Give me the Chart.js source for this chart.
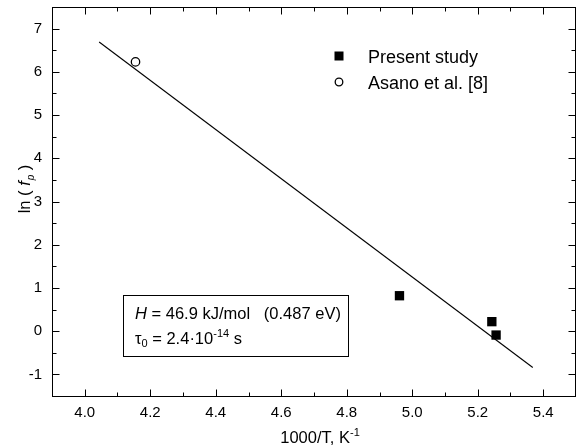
<!DOCTYPE html>
<html><head><meta charset="utf-8">
<script src="https://cdn.jsdelivr.net/npm/chart.js@4.4.1/dist/chart.umd.min.js"></script>
<style>html,body{margin:0;padding:0;background:#fff;}</style>
</head><body>
<canvas id="c" width="577" height="448"></canvas>
<script>
// ---- data ----
const presentX = [4.961, 5.243, 5.256];
const presentY = [0.82, 0.22, -0.09];
const asanoX = [4.155];
const asanoY = [6.23];
const fitX = [4.044, 5.368];
const fitY = [6.69, -0.84];
const xTickValues = [4.0, 4.2, 4.4, 4.6, 4.8, 5.0, 5.2, 5.4];
const xMinorValues = [4.1, 4.3, 4.5, 4.7, 4.9, 5.1, 5.3];
const yTickValues = [-1, 0, 1, 2, 3, 4, 5, 6, 7];
const yMinorValues = [-0.5, 0.5, 1.5, 2.5, 3.5, 4.5, 5.5, 6.5];
const legendLabels = ['Present study', 'Asano et al. [8]'];

const FONT = '"Liberation Sans", Arial, Helvetica, sans-serif';
const toPts = (xs, ys) => xs.map((x, i) => ({x: x, y: ys[i]}));

function richText(ctx, x, y, parts) {
  let cx = x;
  for (const p of parts) {
    ctx.font = (p.italic ? 'italic ' : '') + p.size + 'px ' + FONT;
    ctx.fillText(p.t, cx, y + (p.dy || 0));
    cx += ctx.measureText(p.t).width + (p.after || 0);
  }
  return cx - x;
}
function richWidth(ctx, parts) {
  let w = 0;
  for (const p of parts) {
    ctx.font = (p.italic ? 'italic ' : '') + p.size + 'px ' + FONT;
    w += ctx.measureText(p.t).width + (p.after || 0);
  }
  return w;
}

const decor = {
  id: 'decor',
  afterDraw(chart) {
    const ctx = chart.ctx;
    const a = chart.chartArea;
    const xs = chart.scales.x, ys = chart.scales.y;
    ctx.save();
    ctx.strokeStyle = '#000';
    ctx.fillStyle = '#000';
    ctx.lineWidth = 1;
    // frame
    const L = Math.round(a.left) + 0.5, R = Math.round(a.right) - 0.5;
    const T = Math.round(a.top) + 0.5, B = Math.round(a.bottom) + 0.5;
    ctx.strokeRect(L, T, R - L, B - T);
    // ticks (inward, mirrored)
    ctx.beginPath();
    const xt = (v, len) => {
      const px = Math.round(xs.getPixelForValue(v)) + 0.5;
      ctx.moveTo(px, B); ctx.lineTo(px, B - len);
      ctx.moveTo(px, T); ctx.lineTo(px, T + len);
    };
    const yt = (v, len) => {
      const py = Math.round(ys.getPixelForValue(v)) + 0.5;
      ctx.moveTo(L, py); ctx.lineTo(L + len, py);
      ctx.moveTo(R, py); ctx.lineTo(R - len, py);
    };
    xTickValues.forEach(v => xt(v, 7));
    xMinorValues.forEach(v => xt(v, 4));
    yTickValues.forEach(v => yt(v, 7));
    yMinorValues.forEach(v => yt(v, 4));
    ctx.stroke();

    // legend
    ctx.textBaseline = 'alphabetic';
    ctx.textAlign = 'left';
    ctx.fillRect(334.5, 51.5, 9, 9);
    ctx.beginPath();
    ctx.lineWidth = 1.3;
    ctx.arc(339, 82, 3.8, 0, Math.PI * 2);
    ctx.stroke();
    ctx.lineWidth = 1;
    ctx.font = '18px ' + FONT;
    ctx.fillText(legendLabels[0], 368, 62.5);
    ctx.fillText(legendLabels[1], 368, 88.5);

    // text box
    ctx.strokeRect(123.5, 295.5, 225, 61);
    richText(ctx, 135, 318.5, [
      {t: 'H', size: 16.5, italic: true},
      {t: ' = 46.9 kJ/mol   (0.487 eV)', size: 16.5}
    ]);
    richText(ctx, 135, 343.5, [
      {t: '\u03C4', size: 16.5},
      {t: '0', size: 11, dy: 3},
      {t: ' = 2.4\u00B710', size: 16.5},
      {t: '-14', size: 11, dy: -7},
      {t: ' s', size: 16.5}
    ]);

    // x title
    const xParts = [
      {t: '1000/T, K', size: 16.5},
      {t: '-1', size: 11, dy: -7}
    ];
    const xw = richWidth(ctx, xParts);
    richText(ctx, 318 - xw / 2 + 2, 443, xParts);

    // y title
    ctx.save();
    ctx.translate(30, 189);
    ctx.rotate(-Math.PI / 2);
    const yParts = [
      {t: 'ln ( ', size: 16.5},
      {t: 'f', size: 16.5, italic: true, after: 1},
      {t: 'p', size: 10, italic: true, dy: 4},
      {t: ' )', size: 16.5}
    ];
    const yw = richWidth(ctx, yParts);
    richText(ctx, -yw / 2, 0, yParts);
    ctx.restore();

    ctx.restore();
  }
};

const noPad = s => { s.paddingTop = 0; s.paddingBottom = 0; s.paddingLeft = 0; s.paddingRight = 0; };

new Chart(document.getElementById('c'), {
  type: 'scatter',
  data: {
    datasets: [
      {
        label: 'fit',
        data: toPts(fitX, fitY),
        showLine: true,
        borderColor: '#000',
        borderWidth: 1.1,
        pointRadius: 0,
        fill: false
      },
      {
        label: legendLabels[0],
        data: toPts(presentX, presentY),
        pointStyle: 'rect',
        pointRadius: 6.6,
        backgroundColor: '#000',
        borderColor: '#000',
        borderWidth: 0
      },
      {
        label: legendLabels[1],
        data: toPts(asanoX, asanoY),
        pointStyle: 'circle',
        pointRadius: 4.2,
        backgroundColor: 'rgba(255,255,255,0)',
        borderColor: '#000',
        borderWidth: 1.3
      }
    ]
  },
  options: {
    responsive: false,
    animation: false,
    devicePixelRatio: 1,
    layout: {autoPadding: false, padding: {top: 7, right: 1, left: 0, bottom: 0}},
    plugins: {legend: {display: false}, tooltip: {enabled: false}},
    scales: {
      x: {
        type: 'linear', min: 3.9, max: 5.5,
        grid: {display: false, drawTicks: false},
        border: {display: false},
        afterBuildTicks: s => { s.ticks = xTickValues.map(v => ({value: v})); },
        afterFit: s => { s.height = 52; noPad(s); },
        ticks: {
          padding: 8,
          color: '#000',
          font: {family: FONT, size: 15},
          callback: v => Number(v).toFixed(1)
        }
      },
      y: {
        type: 'linear', min: -1.5, max: 7.5,
        grid: {display: false, drawTicks: false},
        border: {display: false},
        afterBuildTicks: s => { s.ticks = yTickValues.map(v => ({value: v})); },
        afterFit: s => { s.width = 52; noPad(s); },
        ticks: {
          padding: 10,
          color: '#000',
          font: {family: FONT, size: 15},
          callback: v => String(v)
        }
      }
    }
  },
  plugins: [decor]
});
</script>
</body></html>
